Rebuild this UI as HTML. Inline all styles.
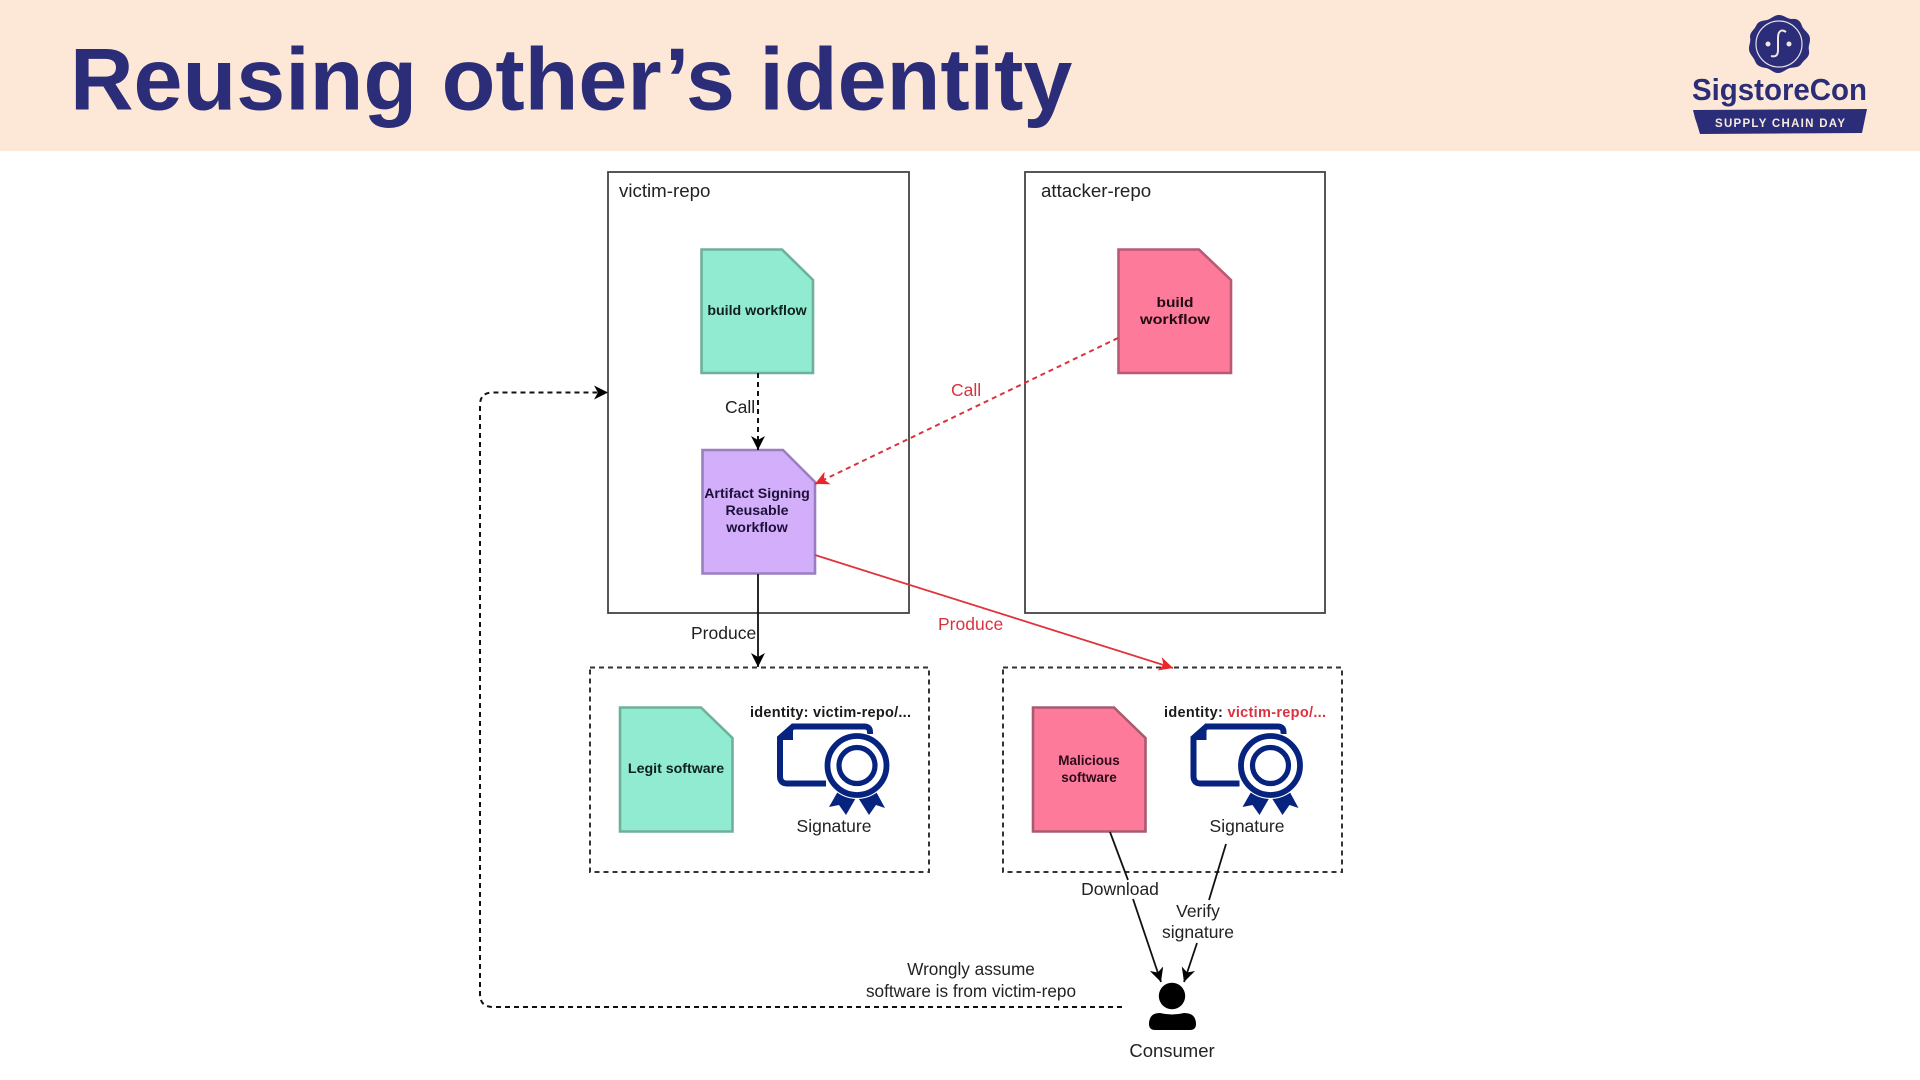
<!DOCTYPE html>
<html>
<head>
<meta charset="utf-8">
<style>
html,body{margin:0;padding:0;background:#fff;}
body{width:1920px;height:1080px;overflow:hidden;position:relative;}
svg{position:absolute;left:0;top:0;filter:blur(0.35px);}
text{font-family:"Liberation Sans",sans-serif;}
.l{font-size:17.5px;fill:#222;}
.r{font-size:17.5px;fill:#d9333f;}
.b{font-size:14.2px;font-weight:bold;fill:#10201c;text-anchor:middle;}
.m{text-anchor:middle;}
.id{font-size:14.5px;font-weight:bold;fill:#1a1a1a;}
</style>
</head>
<body>
<svg width="1920" height="1080" viewBox="0 0 1920 1080" xmlns="http://www.w3.org/2000/svg">
<defs>
<marker id="ak" markerWidth="16" markerHeight="16" refX="14" refY="7" orient="auto" markerUnits="userSpaceOnUse"><path d="M0 0 L14 7 L0 14 L4 7 Z" fill="#000"/></marker>
<marker id="ar" markerWidth="16" markerHeight="16" refX="14" refY="7" orient="auto" markerUnits="userSpaceOnUse"><path d="M0 0 L14 7 L0 14 L4 7 Z" fill="#e8262c"/></marker>
</defs>

<rect x="0" y="0" width="1920" height="151" fill="#fde8d7"/>
<text x="70" y="109.5" font-size="88" font-weight="bold" fill="#2b2d78">Reusing other’s identity</text>

<!-- logo -->
<path d="M1779 15 C1784 15 1787 19 1792 19 C1798 18 1801 22 1802 26 C1804 31 1810 33 1810 39 C1810 44 1808 46 1809 51 C1810 57 1805 59 1802 63 C1799 68 1795 67 1790 68 C1786 69 1783 73 1778 73 C1773 73 1771 69 1766 68 C1760 67 1757 66 1755 61 C1753 56 1749 54 1749 49 C1749 44 1751 42 1750 37 C1750 32 1754 30 1756 26 C1758 21 1762 21 1767 20 C1771 19 1774 15 1779 15 Z" fill="#2b2d78"/>
<circle cx="1779" cy="44" r="23" fill="none" stroke="#e9dfe6" stroke-width="1.2"/>
<path d="M1786 32 C1780 28 1778 33 1778 38 L1778 50 C1778 56 1775 57 1771 56" fill="none" stroke="#f3e6dc" stroke-width="2"/>
<circle cx="1768" cy="44" r="2.5" fill="#f3e6dc"/><circle cx="1789" cy="44" r="2.5" fill="#f3e6dc"/>
<text x="1692" y="100" font-size="30.5" font-weight="bold" fill="#2b2d78" textLength="175" lengthAdjust="spacingAndGlyphs">SigstoreCon</text>
<path d="M1693 110 L1867 109 L1862 133 L1700 134 L1697 124 L1695 118 Z" fill="#2b2d78"/>
<text x="1715" y="127" font-size="11.5" font-weight="bold" fill="#f6eadf" textLength="130">SUPPLY CHAIN DAY</text>

<!-- repos -->
<rect x="608" y="172" width="301" height="441" fill="none" stroke="#444" stroke-width="1.8"/>
<rect x="1025" y="172" width="300" height="441" fill="none" stroke="#444" stroke-width="1.8"/>
<text x="619" y="197" class="l" style="font-size:18.7px">victim-repo</text>
<text x="1041" y="197" class="l" style="font-size:18.7px">attacker-repo</text>

<!-- docs -->
<path d="M701.5 249.5 H782 L813 280 V373 H701.5 Z" fill="#90ebd0" stroke="#6fb09c" stroke-width="2.6"/>
<path d="M702.5 450 H783 L815 482 V573.5 H702.5 Z" fill="#d3aefb" stroke="#9a7fc0" stroke-width="2.6"/>
<path d="M1118.5 249.5 H1199 L1231 280 V373 H1118.5 Z" fill="#fe7a9b" stroke="#b85a74" stroke-width="2.6"/>
<path d="M620 707.5 H701 L732.5 738 V831.5 H620 Z" fill="#90ebd0" stroke="#6fb09c" stroke-width="2.6"/>
<path d="M1033 707.5 H1114 L1145.5 738 V831.5 H1033 Z" fill="#fe7a9b" stroke="#a85a70" stroke-width="2.6"/>

<text x="757" y="315" class="b">build workflow</text>
<text x="1175" y="307" class="b" style="fill:#200a12" textLength="37" lengthAdjust="spacingAndGlyphs">build</text>
<text x="1175" y="324" class="b" style="fill:#200a12" textLength="70" lengthAdjust="spacingAndGlyphs">workflow</text>
<text x="757" y="498" class="b" style="fill:#1c1038">Artifact Signing</text>
<text x="757" y="515" class="b" style="fill:#1c1038">Reusable</text>
<text x="757" y="532" class="b" style="fill:#1c1038">workflow</text>
<text x="676" y="773" class="b">Legit software</text>
<text x="1089" y="765" class="b" style="font-size:13.5px;fill:#2a0c18">Malicious</text>
<text x="1089" y="782" class="b" style="font-size:13.5px;fill:#2a0c18">software</text>

<!-- dashed result boxes -->
<rect x="590" y="667.5" width="339" height="204.5" fill="none" stroke="#333" stroke-width="2" stroke-dasharray="5 4"/>
<rect x="1003" y="667.5" width="339" height="204.5" fill="none" stroke="#333" stroke-width="2" stroke-dasharray="5 4"/>

<!-- certificates -->
<g>
  <path d="M870 734 V732 Q870 726.5 864 726.5 H793 L780 738 V776 Q780 783.5 787 783.5 H826" fill="none" stroke="#06237f" stroke-width="6"/>
  <path d="M793 724 L777 738 V740 L793 740 Z" fill="#06237f"/>
  <path d="M841 786 L829 807 L839 805 L846 815 L857 796 L869 815 L876 805 L885 808 L873 786 Z" fill="#06237f"/>
  <circle cx="857" cy="765.5" r="33.500" fill="#fff"/>
  <circle cx="857" cy="765.5" r="29.5" fill="#fff" stroke="#06237f" stroke-width="5.8"/>
  <circle cx="857" cy="765.5" r="18" fill="#fff" stroke="#06237f" stroke-width="5.2"/>
</g>
<g transform="translate(413.5,0)">
  <path d="M870 734 V732 Q870 726.5 864 726.5 H793 L780 738 V776 Q780 783.5 787 783.5 H826" fill="none" stroke="#06237f" stroke-width="6"/>
  <path d="M793 724 L777 738 V740 L793 740 Z" fill="#06237f"/>
  <path d="M841 786 L829 807 L839 805 L846 815 L857 796 L869 815 L876 805 L885 808 L873 786 Z" fill="#06237f"/>
  <circle cx="857" cy="765.5" r="33.500" fill="#fff"/>
  <circle cx="857" cy="765.5" r="29.5" fill="#fff" stroke="#06237f" stroke-width="5.8"/>
  <circle cx="857" cy="765.5" r="18" fill="#fff" stroke="#06237f" stroke-width="5.2"/>
</g>

<text x="750" y="717" class="id" textLength="161">identity: victim-repo/...</text>
<text x="1164" y="717" class="id" textLength="162">identity: <tspan fill="#d9333f">victim-repo/...</tspan></text>
<text x="834" y="832" class="l m">Signature</text>
<text x="1247" y="832" class="l m">Signature</text>

<!-- connectors -->
<path d="M758 373 V450" fill="none" stroke="#111" stroke-width="2" stroke-dasharray="5 4" marker-end="url(#ak)"/>
<path d="M758 574 V667" fill="none" stroke="#111" stroke-width="1.8" marker-end="url(#ak)"/>
<path d="M1118 338 L815 484" fill="none" stroke="#d9333f" stroke-width="2" stroke-dasharray="5 4" marker-end="url(#ar)"/>
<path d="M815 555 L1173 668" fill="none" stroke="#e0333a" stroke-width="1.8" marker-end="url(#ar)"/>
<path d="M1110 832 L1128 880" fill="none" stroke="#111" stroke-width="1.8"/>
<path d="M1133 899 L1161 982" fill="none" stroke="#111" stroke-width="1.8" marker-end="url(#ak)"/>
<path d="M1226 844 L1209 900" fill="none" stroke="#111" stroke-width="1.8"/>
<path d="M1197 943 L1184 982" fill="none" stroke="#111" stroke-width="1.8" marker-end="url(#ak)"/>
<path d="M1122 1007 H493 Q480 1007 480 994 V405 Q480 392.5 493 392.5 H608" fill="none" stroke="#111" stroke-width="2" stroke-dasharray="5 4" marker-end="url(#ak)"/>

<!-- labels -->
<text x="725" y="413" class="l">Call</text>
<text x="951" y="396" class="r">Call</text>
<text x="691" y="639" class="l">Produce</text>
<text x="938" y="630" class="r">Produce</text>
<text x="1120" y="895" class="l m">Download</text>
<text x="1198" y="917" class="l m">Verify</text>
<text x="1198" y="938" class="l m">signature</text>
<text x="971" y="975" class="l m" style="font-size:17.2px">Wrongly assume</text>
<text x="971" y="997" class="l m" style="font-size:17.2px">software is from victim-repo</text>
<text x="1172" y="1057" class="l m" style="font-size:18.5px">Consumer</text>

<!-- consumer -->
<circle cx="1172" cy="996" r="13.2" fill="#000"/>
<path d="M1149 1024 Q1149 1013 1160 1013 Q1172 1016 1184 1013 Q1196 1013 1196 1024 Q1196 1030 1190 1030 H1155 Q1149 1030 1149 1024 Z" fill="#000"/>
</svg>
</body>
</html>
